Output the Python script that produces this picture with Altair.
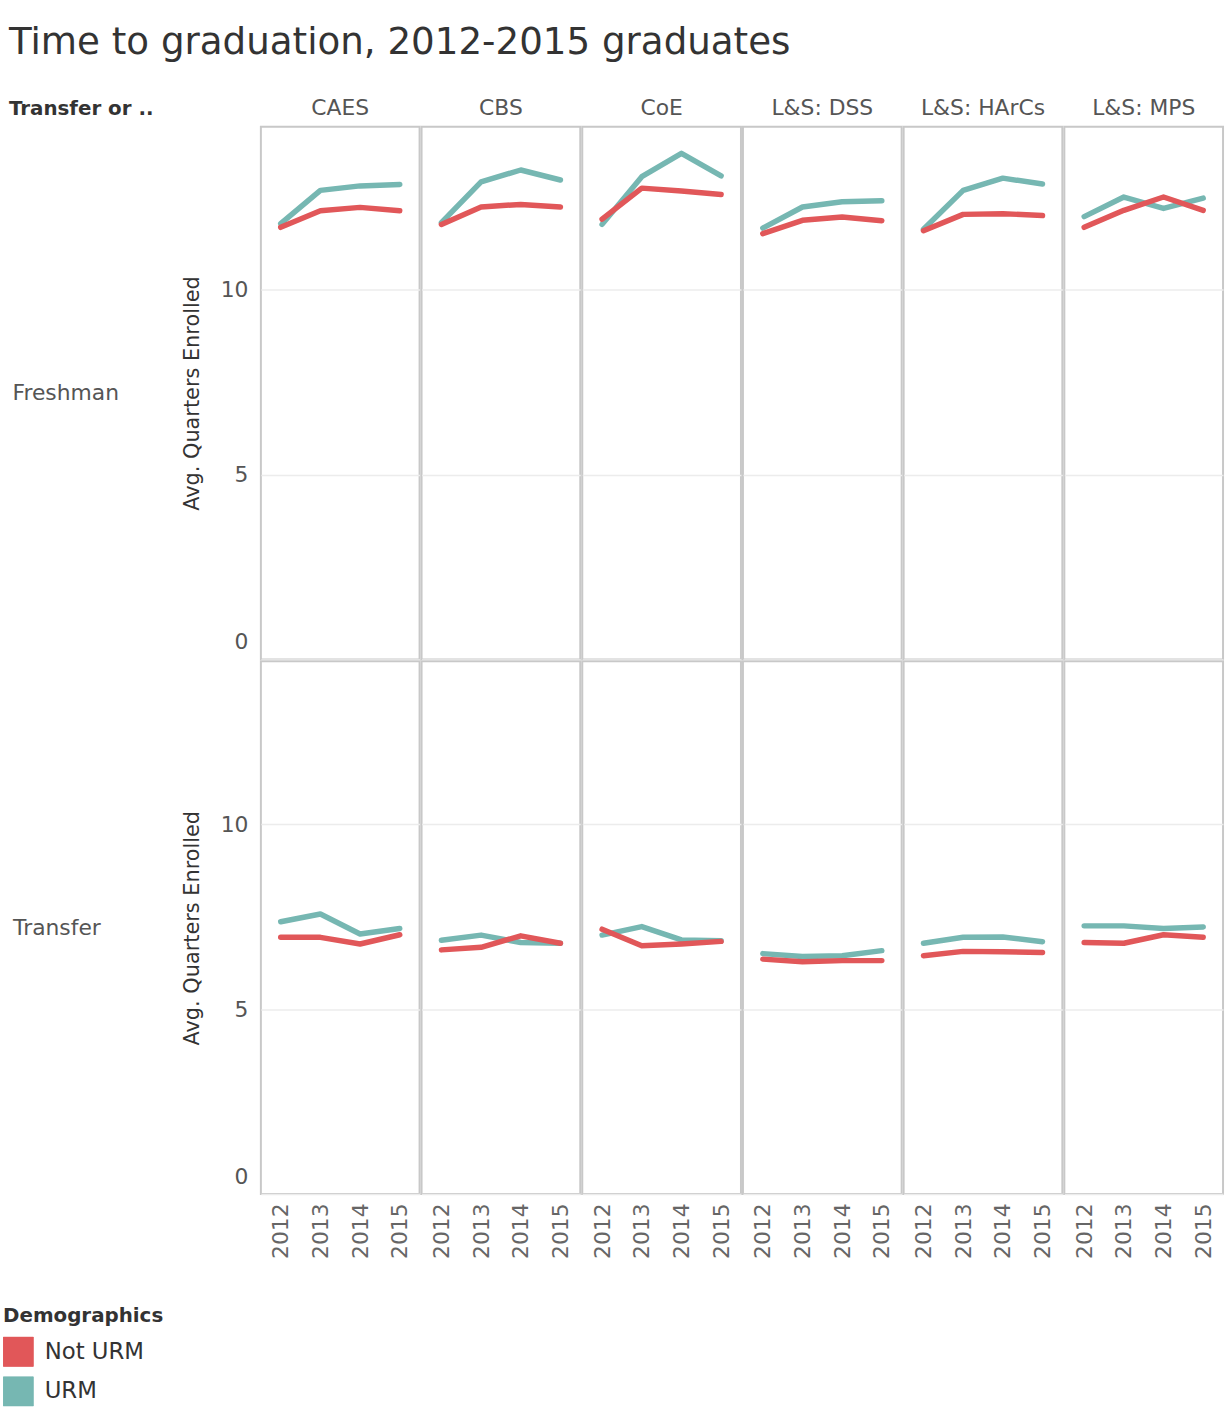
import altair as alt
import pandas as pd

FONT = "DejaVu Sans"

colleges = ["CAES", "CBS", "CoE", "L&S: DSS", "L&S: HArCs", "L&S: MPS"]
years = ["2012", "2013", "2014", "2015"]
groups = ["Freshman", "Transfer"]
demographics = ["Not URM", "URM"]
colors = ["#e15759", "#76b7b2"]

# Avg. quarters enrolled, one list per college (2012..2015)
fresh_not_urm = [
    [11.68, 12.13, 12.22, 12.13],
    [11.76, 12.23, 12.30, 12.23],
    [11.90, 12.74, 12.66, 12.57],
    [11.51, 11.87, 11.96, 11.86],
    [11.59, 12.03, 12.05, 12.00],
    [11.68, 12.14, 12.50, 12.14],
]
fresh_urm = [
    [11.78, 12.68, 12.80, 12.84],
    [11.81, 12.91, 13.23, 12.96],
    [11.76, 13.05, 13.68, 13.07],
    [11.66, 12.23, 12.37, 12.40],
    [11.63, 12.68, 13.01, 12.85],
    [11.97, 12.50, 12.19, 12.47],
]
transfer_not_urm = [
    [6.94, 6.94, 6.76, 7.01],
    [6.60, 6.67, 6.98, 6.78],
    [7.16, 6.71, 6.76, 6.83],
    [6.35, 6.28, 6.31, 6.31],
    [6.44, 6.56, 6.55, 6.53],
    [6.80, 6.78, 7.01, 6.94],
]
transfer_urm = [
    [7.36, 7.57, 7.03, 7.18],
    [6.86, 7.00, 6.80, 6.78],
    [7.00, 7.23, 6.87, 6.85],
    [6.50, 6.42, 6.44, 6.58],
    [6.78, 6.94, 6.95, 6.82],
    [7.25, 7.25, 7.18, 7.22],
]

series = {
    "Freshman": {"URM": fresh_urm, "Not URM": fresh_not_urm},
    "Transfer": {"URM": transfer_urm, "Not URM": transfer_not_urm},
}

rows = []
for grp in groups:
    for dem in ["URM", "Not URM"]:  # URM first so Not URM draws on top
        for ci, col in enumerate(colleges):
            for yi, yr in enumerate(years):
                rows.append({"group": grp, "college": col, "year": yr,
                             "demo": dem, "value": series[grp][dem][ci][yi]})
df = pd.DataFrame(rows)

# pad the shorter row label (non-trimmable tail) so both row labels start at the same x
row_label_expr = "datum.value == 'Transfer' ? 'Transfer\u00a0\u00a0\u2009\u200b' : datum.value"

legend = alt.Legend(title="Demographics", orient="none",
                    legendX=-260, legendY=1189,
                    direction="vertical",
                    symbolType="square", symbolSize=900,
                    symbolStrokeWidth=1, clipHeight=30,
                    labelOffset=11, rowPadding=10, titlePadding=11)
color = alt.Color("demo:N", scale=alt.Scale(domain=demographics, range=colors), legend=legend)

x_enc = alt.X("year:O", title=None, sort=years,
              scale=alt.Scale(type="point", padding=0.5),
              axis=alt.Axis(labelAngle=270, labelPadding=8, labelColor="#666",
                            ticks=False, domain=False, grid=False))
y_enc = alt.Y("value:Q", title="Avg. Quarters Enrolled",
              scale=alt.Scale(domain=[0, 14.4], nice=False, zero=True),
              axis=alt.Axis(values=[0, 5, 10], labelPadding=12, titlePadding=18,
                            titleFontSize=21,
                            labelFlush=True, labelFlushOffset=-6,
                            ticks=False, domain=False, grid=True))

# legend swatches only (no data drawn)
swatch = alt.Chart().mark_square(size=900, filled=True, opacity=1).encode(
    color=color
).transform_filter("false")

lines = alt.Chart().mark_line(strokeWidth=5.5, strokeCap="round", strokeJoin="round").encode(
    x=x_enc, y=y_enc, color=color
)

base = alt.layer(swatch, lines, data=df).properties(width=160, height=537)

chart = base.facet(
    row=alt.Row("group:N", sort=groups, title=None,
                header=alt.Header(labelAngle=0, labelAlign="left", labelPadding=63,
                                  labelExpr=row_label_expr,
                                  labelFontSize=22, labelColor="#555", labelFont=FONT)),
    column=alt.Column("college:N", sort=colleges, title=None,
                      header=alt.Header(labelFontSize=22, labelColor="#555", labelFont=FONT,
                                        labelPadding=6)),
    spacing=0,
).properties(
    title=alt.TitleParams(
        text="Time to graduation, 2012-2015 graduates",
        subtitle="Transfer or ..",
        anchor="start", dx=6, dy=22, offset=0,
        font=FONT, fontSize=37.5, fontWeight="normal", color="#333",
        subtitleFont=FONT, subtitleFontSize=20, subtitleFontWeight="bold",
        subtitleColor="#333", subtitlePadding=38,
    ),
    padding={"left": 3, "top": 18, "right": 4, "bottom": 2},
).configure_view(
    stroke="#c8c8c8", strokeWidth=2
).configure_axis(
    labelFont=FONT, titleFont=FONT, labelFontSize=22, titleFontSize=21,
    labelColor="#555", titleColor="#333", titleFontWeight="normal",
    gridColor="#ececec", gridWidth=1.5,
).configure_legend(
    titleFont=FONT, labelFont=FONT, titleFontSize=20, labelFontSize=23,
    titleColor="#333", labelColor="#333", titleFontWeight="bold",
)

chart.save("out.html", embed_options={"renderer": "svg", "actions": False})
